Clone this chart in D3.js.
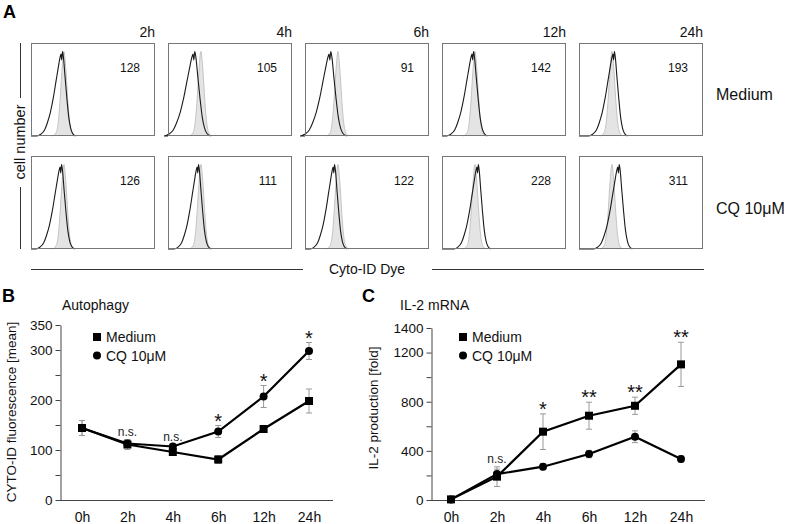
<!DOCTYPE html>
<html>
<head>
<meta charset="utf-8">
<script src="https://cdn.jsdelivr.net/npm/d3@7"></script>
<style>
  html, body { margin: 0; padding: 0; background: #fff; }
  svg { display: block; font-family: "Liberation Sans", Arial, Helvetica, sans-serif; }
</style>
</head>
<body>
<svg id="fig" width="787" height="524"></svg>
<script>
// ---------------- Panel A data ----------------
const histTimes = ["2h", "4h", "6h", "12h", "24h"];
const histGroups = ["Medium", "CQ 10μM"];
const mfiMedium = [128, 105, 91, 142, 193];
const mfiCQ = [126, 111, 122, 228, 311];
// peak channel of the stained sample (black outline) per time point
const peakMedium = [32, 27, 26, 32, 36];
const peakCQ = [31, 31, 30, 37, 41];
// spread of the stained sample histogram per time point
const spreadMedium = [1.0, 1.2, 1.2, 1.05, 1.0];
const spreadCQ = [1.0, 0.95, 0.95, 0.95, 1.0];
// peak channel of the unstained control (grey filled)
const controlPeak = 34;
// histogram shapes: [channel offset from peak, relative count]
const sampleShape = [[-26,0],[-22,0.02],[-18,0.07],[-15,0.16],[-12,0.28],[-9,0.45],[-6,0.66],[-4,0.8],[-2,0.93],[-1,0.97],[-0.3,0.9],[0.5,1],[1.5,0.93],[3,0.72],[5,0.45],[7,0.22],[9,0.09],[11,0.03],[14,0]];
const controlShape = [[-12,0],[-8,0.04],[-6,0.15],[-4,0.42],[-2,0.78],[0,1],[2,0.78],[4,0.42],[6,0.15],[8,0.04],[11,0]];

// ---------------- Panel B data ----------------
const timePoints = ["0h", "2h", "4h", "6h", "12h", "24h"];
const autoMedium = [144, 111, 96, 81, 142, 198];
const autoMediumErr = [15, 10, 6, 8, 4, 24];
const autoCQ = [144, 113, 107, 137, 207, 298];
const autoCQErr = [15, 8, 4, 12, 22, 17];
const autoSig = ["", "n.s.", "n.s.", "*", "*", "*"];
const autoTicks = [0, 50, 100, 150, 200, 250, 300, 350];
const autoTickLabels = [0, 100, 200, 300, 350];

// ---------------- Panel C data ----------------
const il2Medium = [5, 190, 556, 686, 767, 1104];
const il2MediumErr = [0, 80, 145, 110, 70, 180];
const il2CQ = [5, 211, 271, 374, 515, 334];
const il2CQErr = [0, 40, 25, 30, 48, 25];
const il2Sig = ["", "n.s.", "*", "**", "**", "**"];
const il2Ticks = [0, 200, 400, 600, 800, 1000, 1200, 1400];
const il2TickLabels = [0, 400, 800, 1200, 1400];

const svg = d3.select("#fig");
const FONT = '"Liberation Sans", Arial, Helvetica, sans-serif';

// ================= Panel A =================
svg.append("text").attr("x", 3).attr("y", 18).attr("font-size", 18).attr("font-weight", "bold").text("A");

const colScale = d3.scaleBand().domain(histTimes).range([31, 703]).paddingInner(13 / 137).paddingOuter(0);
const rowScale = d3.scaleBand().domain(histGroups).range([43, 249]).paddingInner(0.177).paddingOuter(0);

const areaGen = (xs, ys) => d3.area().x(d => xs(d[0])).y0(ys(0)).y1(d => ys(d[1])).curve(d3.curveMonotoneX);
const lineGen = (xs, ys) => d3.line().x(d => xs(d[0])).y(d => ys(d[1])).curve(d3.curveMonotoneX);

histGroups.forEach((g, gi) => {
  const mfi = gi === 0 ? mfiMedium : mfiCQ;
  const peaks = gi === 0 ? peakMedium : peakCQ;
  const spreads = gi === 0 ? spreadMedium : spreadCQ;
  const top = rowScale(g), h = rowScale.bandwidth();
  histTimes.forEach((t, ti) => {
    const left = colScale(t), w = colScale.bandwidth();
    const xs = d3.scaleLinear().domain([0, 128]).range([left, left + w]);
    const ys = d3.scaleLinear().domain([0, 1.1]).range([top + h, top]);
    const gBox = svg.append("g");
    const ctrl = controlShape.map(d => [controlPeak + d[0], d[1]]);
    gBox.append("path").datum(ctrl)
      .attr("d", areaGen(xs, ys)).attr("fill", "#e4e4e4").attr("stroke", "none");
    gBox.append("path").datum(ctrl)
      .attr("d", lineGen(xs, ys)).attr("fill", "none").attr("stroke", "#c4c4c4").attr("stroke-width", 1);
    const samp = [[0, 0]].concat(sampleShape.map(d => [peaks[ti] + d[0] * spreads[ti], d[1]]));
    gBox.append("path").datum(samp)
      .attr("d", lineGen(xs, ys)).attr("fill", "none").attr("stroke", "#1a1a1a").attr("stroke-width", 1.1);
    gBox.append("rect").attr("x", left + 0.5).attr("y", top + 0.5).attr("width", w - 1).attr("height", h - 1)
      .attr("fill", "none").attr("stroke", "#777").attr("stroke-width", 1);
    gBox.append("text").attr("x", left + w - 15).attr("y", top + 29).attr("text-anchor", "end")
      .attr("font-size", 12).attr("fill", "#111").text(mfi[ti]);
    if (gi === 0) {
      svg.append("text").attr("x", left + w).attr("y", 37).attr("text-anchor", "end")
        .attr("font-size", 14).attr("fill", "#111").text(t);
    }
  });
  svg.append("text").attr("x", 716).attr("y", top + h / 2 + 11).attr("font-size", 16).attr("fill", "#111").text(g);
});

// cell number axis
svg.append("line").attr("x1", 20.5).attr("x2", 20.5).attr("y1", 43).attr("y2", 98).attr("stroke", "#333");
svg.append("line").attr("x1", 20.5).attr("x2", 20.5).attr("y1", 187).attr("y2", 249).attr("stroke", "#333");
svg.append("text").attr("transform", "translate(25,142) rotate(-90)").attr("text-anchor", "middle")
  .attr("font-size", 14.5).attr("fill", "#111").text("cell number");
// Cyto-ID Dye axis
svg.append("line").attr("x1", 31).attr("x2", 303).attr("y1", 269.5).attr("y2", 269.5).attr("stroke", "#333");
svg.append("line").attr("x1", 432).attr("x2", 704).attr("y1", 269.5).attr("y2", 269.5).attr("stroke", "#333");
svg.append("text").attr("x", 367).attr("y", 274).attr("text-anchor", "middle")
  .attr("font-size", 14).attr("fill", "#111").text("Cyto-ID Dye");

// ================= Line panels =================
function linePanel(opt) {
  const g = svg.append("g");
  g.append("text").attr("x", opt.letterX).attr("y", 302).attr("font-size", 18).attr("font-weight", "bold").text(opt.letter);
  g.append("text").attr("x", opt.titleX).attr("y", 310).attr("font-size", 14).attr("fill", "#111").text(opt.title);

  const x = d3.scalePoint().domain(timePoints).range(opt.xRange);
  const y = d3.scaleLinear().domain(opt.yDomain).range([500, opt.yTop]);

  // y axis
  const yAxis = d3.axisLeft(y).tickValues(opt.ticks).tickSize(5).tickSizeOuter(0).tickPadding(3)
    .tickFormat(d => opt.tickLabels.includes(d) ? d : "");
  const ya = g.append("g").attr("transform", `translate(${opt.axisX0 + 0.5},0)`).call(yAxis);
  ya.selectAll("path,line").attr("stroke", "#444");
  ya.selectAll("text").attr("font-size", 13.5).attr("font-family", FONT).attr("fill", "#111");

  // x axis
  g.append("line").attr("x1", opt.axisX0).attr("x2", opt.axisX1).attr("y1", 500.5).attr("y2", 500.5).attr("stroke", "#444");
  const xAxis = d3.axisBottom(x).tickSize(0).tickPadding(12);
  const xa = g.append("g").attr("transform", "translate(0,500)").call(xAxis);
  xa.select(".domain").remove();
  xa.selectAll("text").attr("font-size", 14).attr("font-family", FONT).attr("fill", "#111");

  // y label
  g.append("text").attr("transform", `translate(${opt.ylabelX},${opt.ylabelY}) rotate(-90)`)
    .attr("text-anchor", "middle").attr("font-size", 13.5).attr("fill", "#111").text(opt.ylabel);

  const series = [
    { vals: opt.medium, err: opt.mediumErr, shape: "square" },
    { vals: opt.cq, err: opt.cqErr, shape: "circle" }
  ];
  // error bars
  series.forEach(s => {
    s.vals.forEach((v, i) => {
      if (!s.err[i]) return;
      const cx = x(timePoints[i]);
      const eg = g.append("g").attr("stroke", "#999").attr("stroke-width", 1);
      eg.append("line").attr("x1", cx).attr("x2", cx).attr("y1", y(v - s.err[i])).attr("y2", y(v + s.err[i]));
      eg.append("line").attr("x1", cx - 3).attr("x2", cx + 3).attr("y1", y(v + s.err[i])).attr("y2", y(v + s.err[i]));
      eg.append("line").attr("x1", cx - 3).attr("x2", cx + 3).attr("y1", y(v - s.err[i])).attr("y2", y(v - s.err[i]));
    });
  });
  // lines
  const line = d3.line().x((d, i) => x(timePoints[i])).y(d => y(d));
  series.forEach(s => {
    g.append("path").datum(s.vals).attr("d", line).attr("fill", "none").attr("stroke", "#000").attr("stroke-width", 2.2);
  });
  // markers
  series.slice().reverse().forEach(s => {
    s.vals.forEach((v, i) => {
      const cx = x(timePoints[i]), cy = y(v);
      if (s.shape === "square") g.append("rect").attr("x", cx - 4).attr("y", cy - 4).attr("width", 8).attr("height", 8).attr("fill", "#000");
      else g.append("circle").attr("cx", cx).attr("cy", cy).attr("r", 4).attr("fill", "#000");
    });
  });
  // significance
  opt.sig.forEach((s, i) => {
    if (!s) return;
    const topV = Math.max(opt.medium[i] + opt.mediumErr[i], opt.cq[i] + opt.cqErr[i]);
    const ty = y(topV);
    const cx = x(timePoints[i]);
    if (s === "n.s.") g.append("text").attr("x", cx).attr("y", ty - 4).attr("text-anchor", "middle").attr("font-size", 12).attr("fill", "#222").text(s);
    else g.append("text").attr("x", cx).attr("y", ty + 2).attr("text-anchor", "middle").attr("font-size", 20).attr("fill", "#111").text(s);
  });
  // legend
  const lg = g.append("g");
  lg.append("rect").attr("x", opt.legX - 4).attr("y", 337 - 4).attr("width", 8).attr("height", 8).attr("fill", "#000");
  lg.append("circle").attr("cx", opt.legX).attr("cy", 355.5).attr("r", 4).attr("fill", "#000");
  lg.append("text").attr("x", opt.legX + 9).attr("y", 342).attr("font-size", 14).attr("fill", "#111").text("Medium");
  lg.append("text").attr("x", opt.legX + 9).attr("y", 360.5).attr("font-size", 14).attr("fill", "#111").text("CQ 10μM");
}

linePanel({
  letter: "B", letterX: 2, title: "Autophagy", titleX: 62,
  xRange: [82, 309], axisX0: 60, axisX1: 333,
  yDomain: [0, 350], yTop: 325, ticks: autoTicks, tickLabels: autoTickLabels,
  ylabel: "CYTO-ID fluorescence [mean]", ylabelX: 16, ylabelY: 412,
  medium: autoMedium, mediumErr: autoMediumErr, cq: autoCQ, cqErr: autoCQErr, sig: autoSig,
  legX: 97
});
linePanel({
  letter: "C", letterX: 362, title: "IL-2 mRNA", titleX: 400,
  xRange: [451, 681], axisX0: 431, axisX1: 705,
  yDomain: [0, 1400], yTop: 328, ticks: il2Ticks, tickLabels: il2TickLabels,
  ylabel: "IL-2 production [fold]", ylabelX: 378, ylabelY: 408,
  medium: il2Medium, mediumErr: il2MediumErr, cq: il2CQ, cqErr: il2CQErr, sig: il2Sig,
  legX: 463
});
</script>
</body>
</html>
